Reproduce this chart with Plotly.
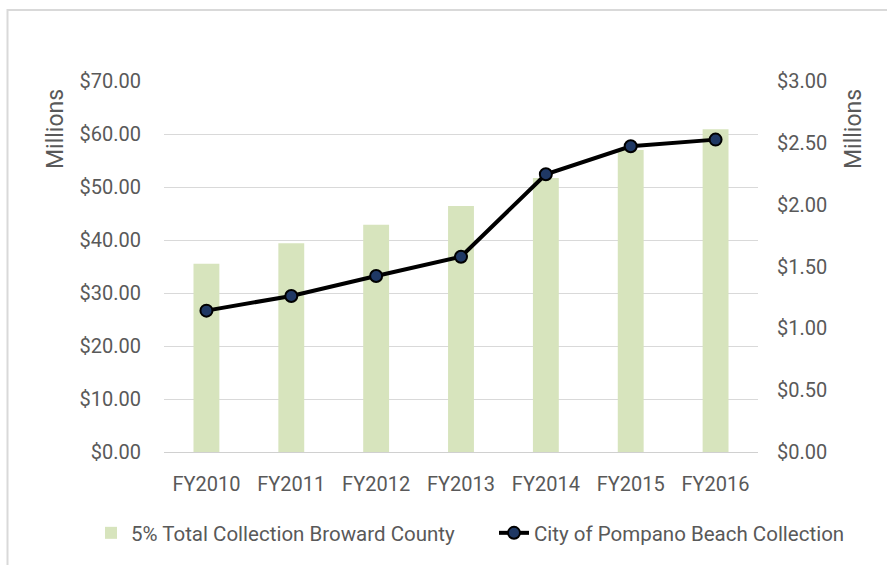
import plotly.graph_objects as go

categories = ["FY2010", "FY2011", "FY2012", "FY2013", "FY2014", "FY2015", "FY2016"]
broward_total = [35.5, 39.4, 42.9, 46.4, 51.7, 57.0, 60.9]      # $ millions (left axis)
pompano_collection = [1.143, 1.262, 1.423, 1.579, 2.246, 2.472, 2.526]  # $ millions (right axis)

bar_name = "5% Total Collection Broward County"
line_name = "City of Pompano Beach Collection"

FONT = "Roboto, 'Open Sans', sans-serif"
GRAY = "#595959"

fig = go.Figure()
fig.add_trace(go.Bar(
    x=categories, y=broward_total, name=bar_name,
    marker=dict(color="#D7E4BD", line=dict(width=0)),
    yaxis="y", legend="legend",
))
fig.add_trace(go.Scatter(
    x=categories, y=pompano_collection, name=line_name,
    mode="lines+markers",
    line=dict(color="black", width=4),
    marker=dict(size=12, color="#1F3864", line=dict(color="black", width=2)),
    yaxis="y2", legend="legend2",
))

fig.update_layout(
    width=887, height=565,
    margin=dict(l=164, r=129, t=81, b=113, autoexpand=False),
    paper_bgcolor="white", plot_bgcolor="white",
    font=dict(family=FONT, size=20, color=GRAY),
    bargap=0.695,
    showlegend=True,
    legend=dict(
        orientation="h", x=(91 - 164) / 594, xanchor="left",
        y=(452 - 533) / 371, yanchor="middle",
        font=dict(size=20.5, color=GRAY), bgcolor="rgba(0,0,0,0)",
    ),
    legend2=dict(
        orientation="h", x=(494 - 164) / 594, xanchor="left",
        y=(452 - 533) / 371, yanchor="middle",
        font=dict(size=20.5, color=GRAY), bgcolor="rgba(0,0,0,0)",
    ),
    xaxis=dict(
        type="category", showgrid=False, showline=True, linecolor="#D0D0D0", linewidth=1.3,
        ticks="", ticklabelstandoff=14, tickfont=dict(size=20, color=GRAY),
    ),
    yaxis=dict(
        range=[0, 70], dtick=10, tick0=0, tickformat="$.2f",
        showgrid=True, gridcolor="#D9D9D9", gridwidth=1, zeroline=False,
        showline=False, ticks="", ticklabelstandoff=22, tickfont=dict(size=20, color=GRAY),
    ),
    yaxis2=dict(
        range=[0, 3], dtick=0.5, tick0=0, tickformat="$.2f", overlaying="y", side="right",
        showgrid=False, zeroline=False, showline=False, ticks="",
        ticklabelstandoff=18, tickfont=dict(size=20, color=GRAY),
    ),
    annotations=[
        dict(text="Millions", xref="paper", yref="paper", x=(55 - 164) / 594, y=(452 - 129) / 371,
             xanchor="center", yanchor="middle", textangle=-90, showarrow=False,
             font=dict(size=23, color=GRAY, family=FONT)),
        dict(text="Millions", xref="paper", yref="paper", x=(853 - 164) / 594, y=(452 - 129) / 371,
             xanchor="center", yanchor="middle", textangle=-90, showarrow=False,
             font=dict(size=23, color=GRAY, family=FONT)),
    ],
    shapes=[
        dict(type="rect", xref="paper", yref="paper",
             x0=(7.5 - 164) / 594, x1=(900 - 164) / 594,
             y0=(452 - 580) / 371, y1=(452 - 10) / 371,
             line=dict(color="#D9D9D9", width=2), fillcolor="rgba(0,0,0,0)", layer="below"),
    ],
)

fig.write_html("out.html", config={"displayModeBar": False},
               post_script="document.body.style.margin='0';")
